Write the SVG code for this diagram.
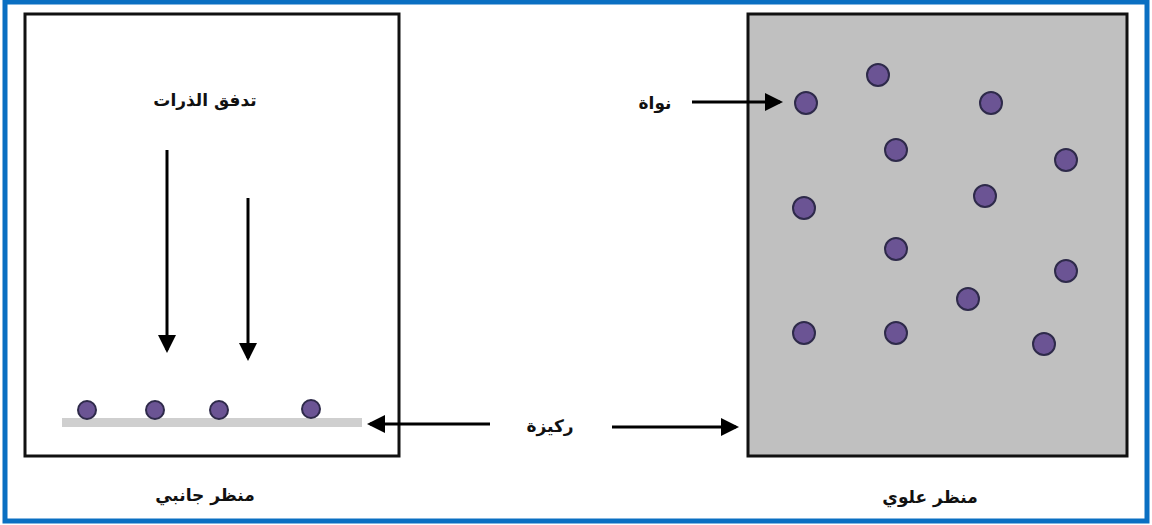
<svg xmlns="http://www.w3.org/2000/svg" width="1152" height="525" viewBox="0 0 1152 525">
<style>
.lbl{font-family:"DejaVu Sans","Noto Sans",sans-serif;font-weight:bold;font-size:17px;fill:#111;text-anchor:middle}
.dot{fill:#6b5494;stroke:#2e2a4a;stroke-width:2}
.arr{stroke:#000;stroke-width:3;fill:none;marker-end:url(#ah)}
</style>
<defs>
<marker id="ah" markerWidth="6" markerHeight="6" refX="5" refY="3" orient="auto" markerUnits="strokeWidth">
<path d="M0,0 L6,3 L0,6 z" fill="#000"/>
</marker>
</defs>
<rect x="0" y="0" width="1152" height="525" fill="#fff"/>
<rect x="5" y="2" width="1142" height="519" fill="none" stroke="#0a6fc2" stroke-width="5"/>
<g id="side-view">
<rect x="25" y="14" width="374" height="442" fill="#fff" stroke="#111" stroke-width="3"/>
<rect id="substrate-side" x="62" y="418" width="300" height="9" fill="#cfcfcf"/>
<circle class="dot" cx="87" cy="410" r="9"/>
<circle class="dot" cx="155" cy="410" r="9"/>
<circle class="dot" cx="219" cy="410" r="9"/>
<circle class="dot" cx="311" cy="409" r="9"/>
</g>
<g id="top-view">
<rect x="748" y="14" width="379" height="442" fill="#c0c0c0" stroke="#111" stroke-width="3"/>
<circle class="dot" cx="878" cy="75" r="11"/>
<circle class="dot" cx="806" cy="103" r="11"/>
<circle class="dot" cx="991" cy="103" r="11"/>
<circle class="dot" cx="896" cy="150" r="11"/>
<circle class="dot" cx="1066" cy="160" r="11"/>
<circle class="dot" cx="804" cy="208" r="11"/>
<circle class="dot" cx="985" cy="196" r="11"/>
<circle class="dot" cx="896" cy="249" r="11"/>
<circle class="dot" cx="1066" cy="271" r="11"/>
<circle class="dot" cx="968" cy="299" r="11"/>
<circle class="dot" cx="804" cy="333" r="11"/>
<circle class="dot" cx="896" cy="333" r="11"/>
<circle class="dot" cx="1044" cy="344" r="11"/>
</g>
<g id="labels">
<text class="lbl" x="205" y="106" direction="rtl">تدفق الذرات</text>
<text class="lbl" x="655" y="109" direction="rtl">نواة</text>
<text class="lbl" x="550" y="432" direction="rtl">ركيزة</text>
<text class="lbl" x="205" y="501" direction="rtl">منظر جانبي</text>
<text class="lbl" x="930" y="503" direction="rtl">منظر علوي</text>
</g>
<g id="connectors">
<line class="arr" x1="167" y1="150" x2="167" y2="350"/>
<line class="arr" x1="248" y1="198" x2="248" y2="358"/>
<line class="arr" x1="692" y1="102" x2="780" y2="102"/>
<line class="arr" x1="490" y1="424" x2="370" y2="424"/>
<line class="arr" x1="612" y1="427" x2="736" y2="427"/>
</g>
</svg>
